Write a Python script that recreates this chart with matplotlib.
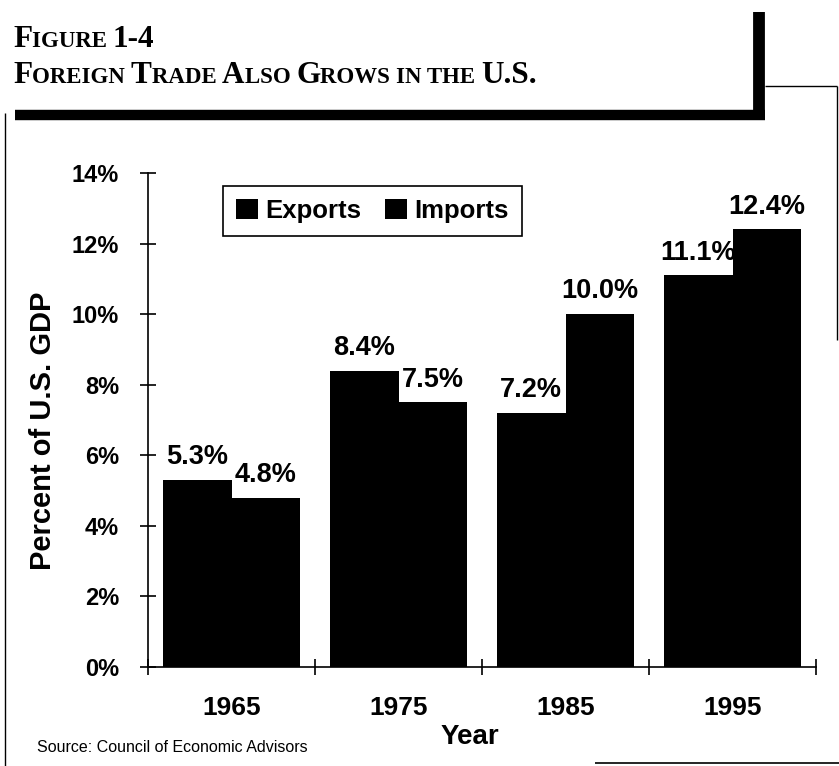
import matplotlib.pyplot as plt
from matplotlib.lines import Line2D
import numpy as np

years = ['1965', '1975', '1985', '1995']
exports = [5.3, 8.4, 7.2, 11.1]
imports = [4.8, 7.5, 10.0, 12.4]

W, H = 839, 766
sans = ['Liberation Sans', 'DejaVu Sans']
narrow = ['Liberation Sans Narrow', 'Liberation Sans', 'DejaVu Sans']
serif = ['Liberation Serif', 'DejaVu Serif']

fig = plt.figure(figsize=(W / 100, H / 100), dpi=100)
ax = fig.add_axes([148 / W, 1 - 667 / H, 668 / W, 494 / H])

x = np.arange(len(years))
width = 0.41
b1 = ax.bar(x - width / 2, exports, width, color='black', label='Exports')
b2 = ax.bar(x + width / 2, imports, width, color='black', label='Imports')

for bars, vals in [(b1, exports), (b2, imports)]:
    ax.bar_label(bars, labels=['%.1f%%' % v for v in vals], padding=7,
                 fontsize=19.5, fontweight='bold', family=sans)

ax.set_xlim(-0.5, 3.5)
ax.set_ylim(0, 14)
ax.spines['top'].set_visible(False)
ax.spines['right'].set_visible(False)
ax.spines['left'].set_linewidth(1.2)
ax.spines['bottom'].set_linewidth(1.2)

ax.set_yticks(np.arange(0, 15, 2))
ax.set_yticklabels(['%d%%' % v for v in range(0, 15, 2)],
                   fontsize=17, fontweight='bold', family=sans)
ax.tick_params(axis='y', direction='inout', length=11.5, width=1.2, pad=15)

ax.set_xticks(x)
ax.set_xticklabels(years, fontsize=19, fontweight='bold', family=narrow)
ax.set_xticks(np.arange(-0.5, 4, 1), minor=True)
ax.tick_params(axis='x', which='major', length=0, pad=21)
ax.tick_params(axis='x', which='minor', direction='inout', length=11.5, width=1.2)

ax.set_ylabel('Percent of U.S. GDP', fontsize=21, fontweight='bold',
              family=sans, va='center')
ax.yaxis.set_label_coords(-0.157, 0.478)
ax.set_xlabel('Year', fontsize=20, fontweight='bold', family=narrow, va='center')
ax.xaxis.set_label_coords(0.482, -0.142)

leg = ax.legend(loc='center', bbox_to_anchor=(0.336, 0.923), ncol=2,
                handlelength=0.85, handleheight=0.85, handletextpad=0.3,
                columnspacing=0.9, borderpad=0.5, fancybox=False, framealpha=1,
                prop={'family': sans, 'weight': 'bold', 'size': 18.5})
leg.get_frame().set_edgecolor('black')
leg.get_frame().set_linewidth(1.2)

# title in small caps
renderer = fig.canvas.get_renderer()


def caps_line(x0, ybase, parts, big=22.5, small=16.5):
    xp = x0
    for s, is_big in parts:
        t = fig.text(xp / W, 1 - ybase / H, s, fontsize=big if is_big else small,
                     fontweight='bold', family=serif, ha='left', va='baseline')
        xp = t.get_window_extent(renderer).x1


caps_line(13, 47, [('F', 1), ('IGURE ', 0), ('1-4', 1)])
caps_line(13, 83, [('F', 1), ('OREIGN ', 0), ('T', 1), ('RADE ', 0), ('A', 1),
                   ('LSO ', 0), ('G', 1), ('ROWS ', 0), ('IN THE ', 0),
                   ('U.S.', 1)])

fig.text(37 / W, 1 - 748 / H, 'Source: Council of Economic Advisors',
         fontsize=11.5, family=narrow, ha='left', va='center')

# frame lines from the printed page
def line(xs, ys, lw):
    fig.add_artist(Line2D([v / W for v in xs], [1 - v / H for v in ys],
                          color='black', lw=lw, solid_capstyle='butt'))


line([15, 765], [115, 115], 7.5)
line([759, 759], [12, 120], 8.5)
line([765, 837], [86, 86], 1)
line([837, 837], [86, 340], 1)
line([5, 5], [113, 766], 1)
line([595, 839], [763, 763], 1.2)

fig.savefig('out.png', dpi=100)
